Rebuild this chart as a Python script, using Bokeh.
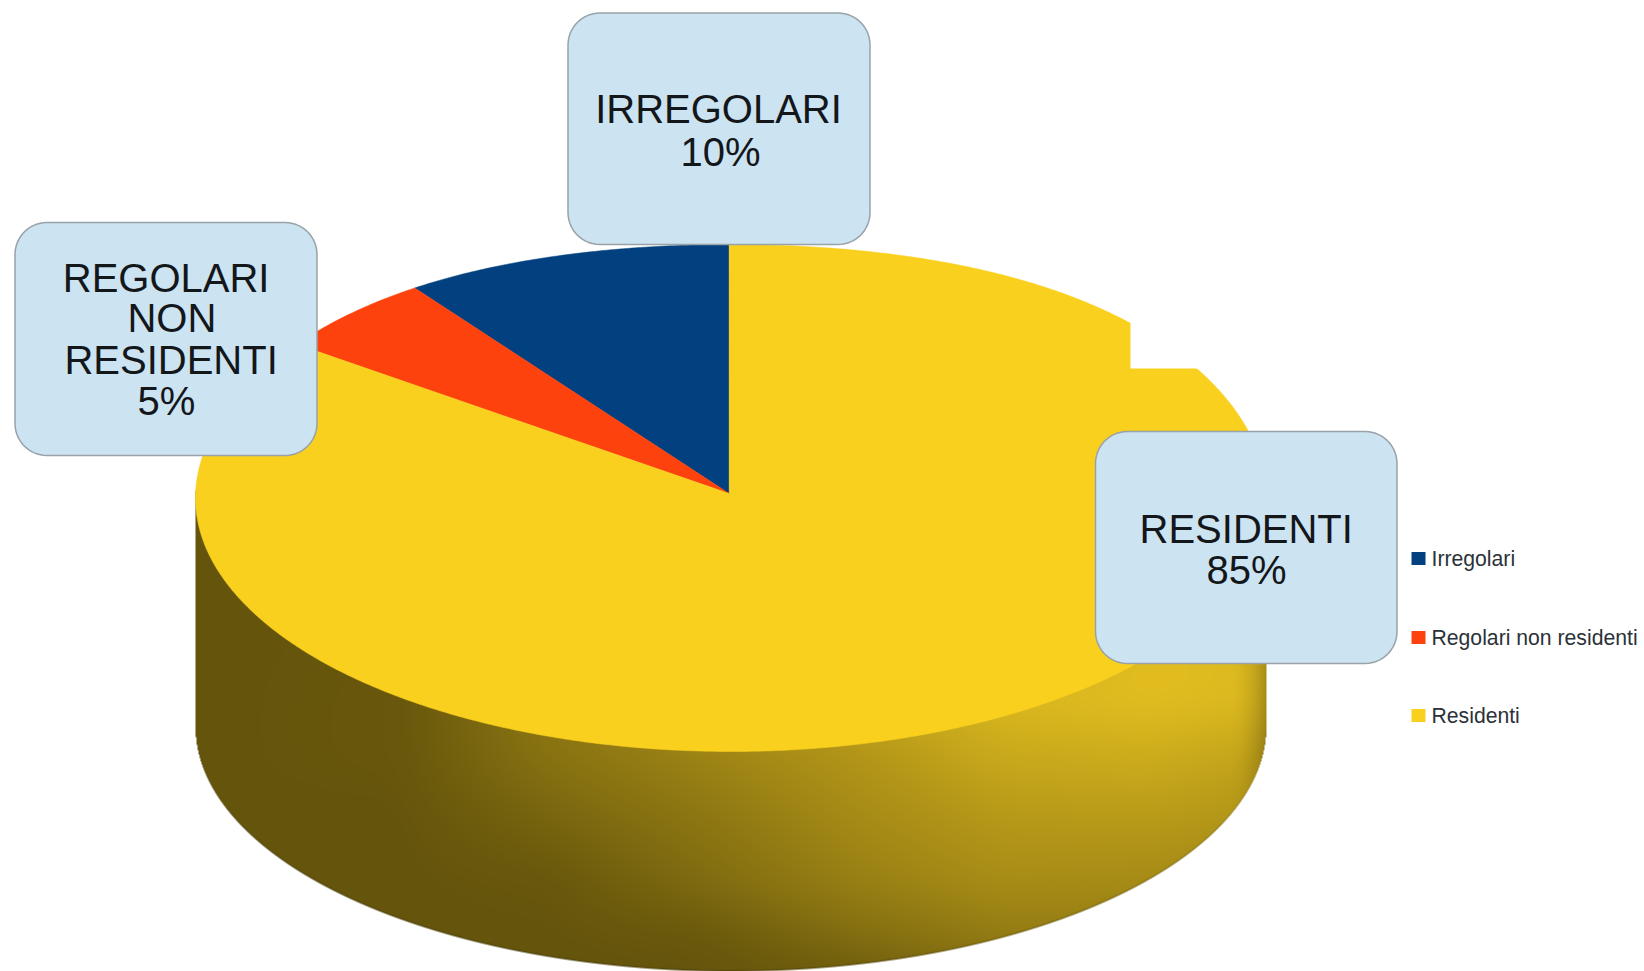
import numpy as np
from bokeh.plotting import figure
from bokeh.embed import file_html
from bokeh.resources import INLINE
from bokeh.core.properties import value

# ---- chart data ----
categories = ["Irregolari", "Regolari non residenti", "Residenti"]
shares = [10, 5, 85]
slice_colors = ["#03407f", "#fd420d", "#f9d01e"]
callout_lines = [
    ["IRREGOLARI", "10%"],
    ["REGOLARI", "NON", "RESIDENTI", "5%"],
    ["RESIDENTI", "85%"],
]

# ---- layout (in page pixels, y downwards) ----
W, H = 1644, 971
CX, CY, RX, RY = 730.5, 497.5, 535.5, 253.5
APEX_X, APEX_Y = 728.7, 493.0
ROT = 0.0035
BOTTOM_CY, BOTTOM_RY = 726.0, 245.0
BOXES = [(567.5, 869.5, 12.5, 244), (14.5, 316.5, 222, 455), (1095, 1396.5, 431, 663)]
LINE_POS = [
    [(718, 108), (720, 151)],
    [(165.6, 277), (171.4, 317.6), (170.6, 359.3), (166, 400.3)],
    [(1245.7, 528), (1246, 569.3)],
]
LEGEND_ROWS = [558, 637, 715]
# shading of the cylinder wall, red channel
SHADE_X = [190, 400, 550, 700, 850, 1000, 1150, 1270]
SHADE_Y = [500, 700, 760, 820, 880, 940, 975]
SHADE_R = [
    [0x65, 0x65, 0x65, 0x65, 0x80, 0xa0, 0xe0, 0xdc],
    [0x65, 0x68, 0x90, 0xa5, 0xc0, 0xdc, 0xe2, 0xdc],
    [0x65, 0x68, 0x88, 0x9c, 0xb0, 0xc8, 0xcc, 0xc0],
    [0x65, 0x65, 0x78, 0x8c, 0xa4, 0xb6, 0xb8, 0xb0],
    [0x65, 0x65, 0x68, 0x80, 0x98, 0xa8, 0xa6, 0xa0],
    [0x65, 0x65, 0x65, 0x68, 0x80, 0x92, 0x92, 0x90],
    [0x65, 0x65, 0x65, 0x65, 0x6c, 0x80, 0x80, 0x80],
]
Y = lambda y: 971 - np.asarray(y, dtype=float)

p = figure(width=W, height=H, x_range=(0, W), y_range=(0, H),
           output_backend="svg", toolbar_location=None, min_border=0, outline_line_color=None)
p.axis.visible = False
p.grid.visible = False
p.background_fill_color = "white"
p.border_fill_color = "white"

# ---- shaded wall of the cylinder, as an image ----
x0, x1, y0, y1 = 190, 1272, 490, 975
xs = np.arange(x0, x1) + 0.5
ys = np.arange(y0, y1) + 0.5
gx, gy = np.meshgrid(xs, ys)
u = np.clip((gx - CX) / RX, -1.5, 1.5)
edge = BOTTOM_CY + BOTTOM_RY * np.sqrt(np.clip(1 - u ** 2, 0, 1))
inside_x = np.clip(RX - np.abs(gx - CX) + 0.5, 0, 1)
inside_y = np.clip(edge - gy + 0.5, 0, 1)
alpha = inside_x * inside_y

by_row = np.array([np.interp(xs, SHADE_X, row) for row in SHADE_R])
red = np.array([np.interp(ys, SHADE_Y, by_row[:, j]) for j in range(len(xs))]).T

def blur(a, r, axis):
    k = np.ones(2 * r + 1) / (2 * r + 1)
    pad = [(r, r) if i == axis else (0, 0) for i in range(2)]
    a = np.pad(a, pad, mode="edge")
    return np.apply_along_axis(lambda v: np.convolve(v, k, mode="valid"), axis, a)

for _ in range(2):
    red = blur(blur(red, 18, 0), 18, 1)

green = red * 0.84
blue = np.interp(red, [0x65, 0xe2], [0x0c, 0x20])
rim = np.clip((u - 0.93) / 0.07, 0, 1) ** 2 * 0.24
outline = np.clip(1 - (edge - gy) / 2, 0, 1) * 0.3
shade = (1 - rim) * (1 - outline)
rgb = [c * shade for c in (red, green, blue)]
img = np.zeros(gx.shape + (4,), dtype=np.uint8)
for i in range(3):
    img[..., i] = np.clip(rgb[i], 0, 255).astype(np.uint8)
img[..., 3] = (alpha * 255).astype(np.uint8)
rgba = img.view(dtype=np.uint32).reshape(gx.shape)
p.image_rgba(image=[rgba[::-1]], x=x0, y=float(Y(y1)), dw=x1 - x0, dh=y1 - y0)

# ---- top face wedges, from the shares ----
total = sum(shares)
start = 0.0
wx, wy = [], []
for s in shares:
    a0 = start / total * 2 * np.pi + ROT
    a1 = (start + s) / total * 2 * np.pi + ROT
    n = max(int(s * 8), 8)
    th = np.linspace(a0, a1, n)
    bulge = np.where(np.cos(th) > 0, 6 * np.sin(2 * th) ** 2, 0)
    wx.append(np.r_[APEX_X, CX - RX * np.sin(th)])
    wy.append(Y(np.r_[APEX_Y, CY - RY * np.cos(th) - bulge]))
    start += s
p.patches(wx, wy, fill_color=slice_colors, line_color=slice_colors, line_width=0.5)

# ---- white patch that masks a corner of the pie ----
p.quad(left=[1130], right=[1215], top=[float(Y(238))], bottom=[float(Y(368))],
       fill_color="white", line_color=None)

# ---- rounded callouts ----
def rounded(l, r, t, b, c=32, n=14):
    a = np.linspace(0, np.pi / 2, n)
    px = np.r_[r - c + c * np.sin(a), r - c + c * np.cos(a), l + c - c * np.sin(a), l + c - c * np.cos(a)]
    py = np.r_[t + c - c * np.cos(a), b - c + c * np.sin(a), b - c + c * np.cos(a), t + c - c * np.sin(a)]
    return px, Y(py)

bx, by = zip(*[rounded(*b) for b in BOXES])
p.patches(list(bx), list(by), fill_color="#cce3f2", line_color="#98a2a8", line_width=1.5)

tx, ty, tt = [], [], []
for lines, pos in zip(callout_lines, LINE_POS):
    for line, (x, y) in zip(lines, pos):
        tx.append(x); ty.append(float(Y(y))); tt.append(line)
p.text(tx, ty, text=tt, text_font=value("Liberation Sans"), text_font_size="40px",
       text_align="center", text_baseline="alphabetic", text_color="#14171a")

# ---- legend ----
p.quad(left=[1411] * 3, right=[1425] * 3,
       top=[float(Y(r - 6.5)) for r in LEGEND_ROWS], bottom=[float(Y(r + 6.5)) for r in LEGEND_ROWS],
       fill_color=slice_colors, line_color=None)
p.text([1431] * 3, [float(Y(r - 0.5)) for r in LEGEND_ROWS], text=categories,
       text_font=value("Liberation Sans"), text_font_size="21.2px",
       text_align="left", text_baseline="alphabetic", text_color="#2b3238")

open("out.html", "w").write(file_html(p, INLINE))
